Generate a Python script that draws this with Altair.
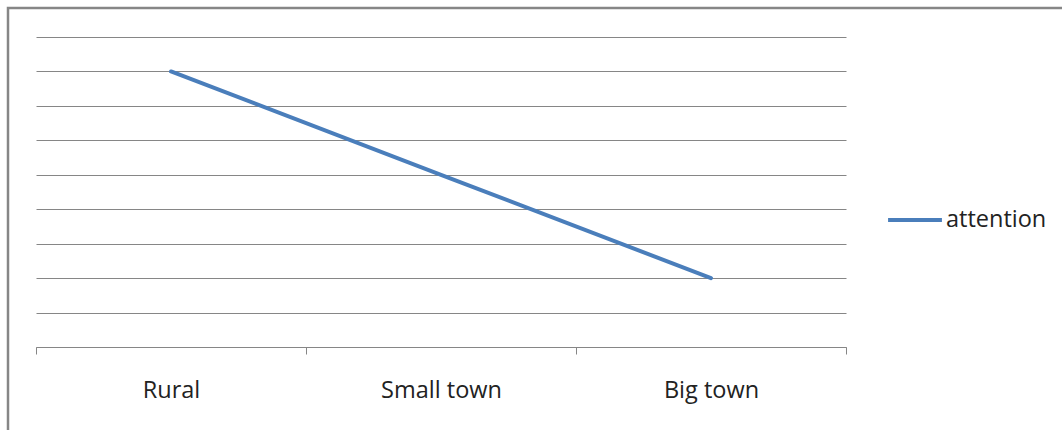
import altair as alt
import pandas as pd

categories = ["Rural", "Small town", "Big town"]
values = [8, 5, 2]
series = ["attention", "attention", "attention"]
grid_values = [0, 1, 2, 3, 4, 5, 6, 7, 8, 9]

df = pd.DataFrame({"place": categories, "value": values, "series": series})

FONT = "Open Sans"
GRID = "#868686"

frame = alt.Chart(pd.DataFrame({"a": [0]})).mark_rect(
    fill=None, stroke=GRID, strokeWidth=2.5
).encode(
    x=alt.value(-28), x2=alt.value(1200),
    y=alt.value(-29), y2=alt.value(600),
)

line = alt.Chart(df).mark_line(strokeWidth=4, strokeCap="round").encode(
    x=alt.X("place:N", sort=categories, title=None,
            scale=alt.Scale(paddingInner=0, paddingOuter=0),
            axis=alt.Axis(labelAngle=0, tickBand="extent", grid=False,
                          domainColor=GRID, tickColor=GRID, tickSize=7,
                          labelFont=FONT, labelFontSize=23.5, labelColor="#222",
                          labelPadding=24)),
    y=alt.Y("value:Q", title=None,
            scale=alt.Scale(domain=[0, 9], nice=False),
            axis=alt.Axis(labels=False, ticks=False, domain=False,
                          grid=True, gridColor=GRID, gridOpacity=1,
                          values=grid_values)),
    color=alt.Color("series:N", title=None,
                    scale=alt.Scale(range=["#4A7EBB"]),
                    legend=alt.Legend(orient="none", legendX=850, legendY=154,
                                      symbolType="stroke", symbolSize=2900,
                                      symbolStrokeWidth=4,
                                      labelFont=FONT, labelFontSize=23.5,
                                      labelColor="#222", labelOffset=2)),
)

chart = alt.layer(frame, line).properties(
    width=810, height=310,
    autosize=alt.AutoSizeParams(type="none"),
    padding={"left": 36, "top": 37, "right": 216, "bottom": 83},
    background="white",
).configure_view(stroke=None)

chart.save("out.html", embed_options={"renderer": "svg", "actions": False})
